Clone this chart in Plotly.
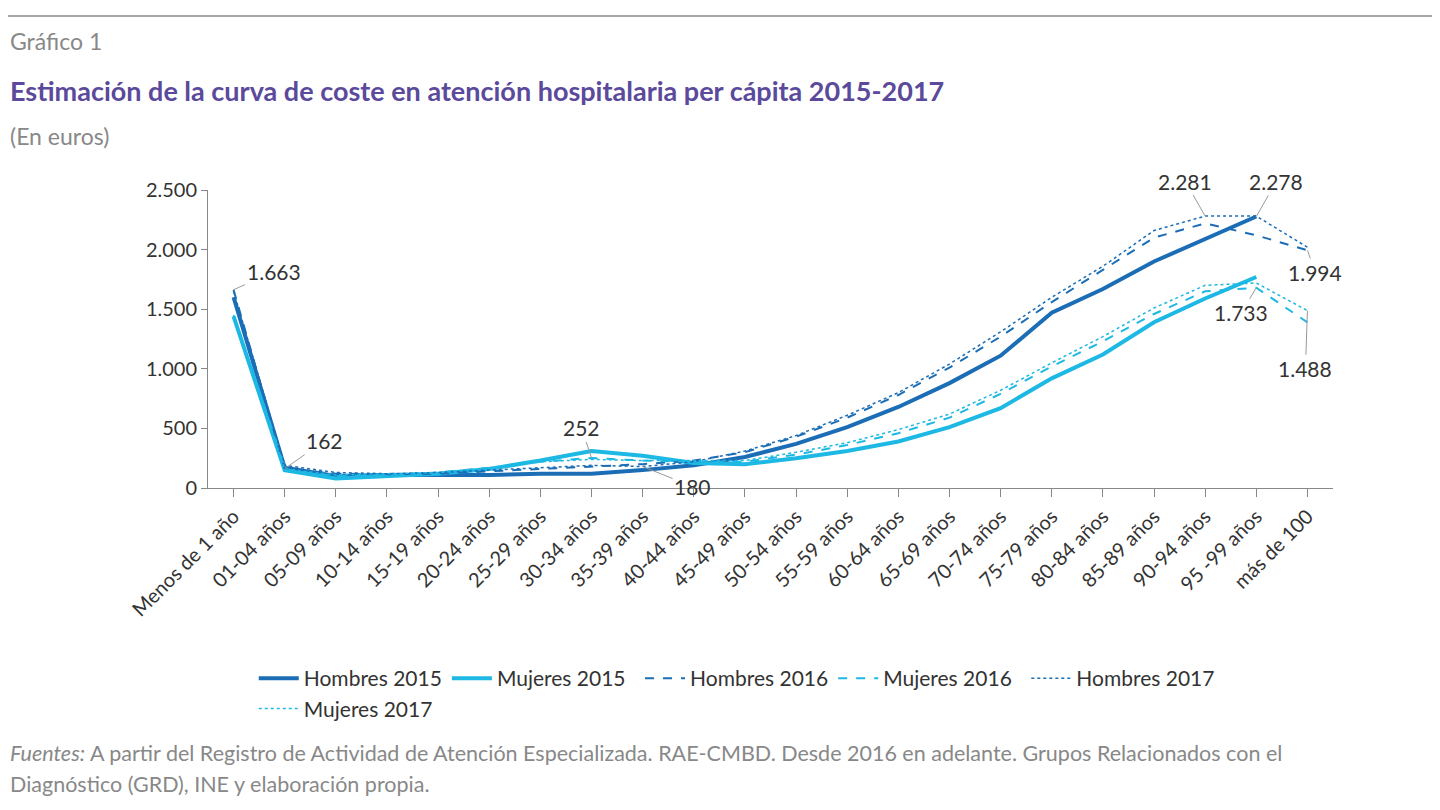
import plotly.graph_objects as go

categories = ["Menos de 1 año","01-04 años","05-09 años","10-14 años","15-19 años","20-24 años",
              "25-29 años","30-34 años","35-39 años","40-44 años","45-49 años","50-54 años",
              "55-59 años","60-64 años","65-69 años","70-74 años","75-79 años","80-84 años",
              "85-89 años","90-94 años","95 -99 años","más de 100"]
hombres_2015 = [1600,170,100,110,110,110,120,120,150,190,260,370,510,680,880,1110,1470,1670,1900,2090,2278,None]
mujeres_2015 = [1440,150,80,100,120,160,230,310,270,210,200,250,310,390,510,670,920,1120,1390,1590,1770,None]
hombres_2016 = [1663,162,120,115,120,140,160,180,200,230,300,430,590,780,1010,1270,1560,1830,2100,2220,2120,1994]
mujeres_2016 = [1450,150,100,110,130,170,220,252,230,220,220,280,360,460,590,790,1020,1230,1460,1650,1680,1390]
hombres_2017 = [1650,190,130,120,130,150,170,190,180,220,310,440,610,800,1040,1310,1600,1860,2160,2281,2281,2020]
mujeres_2017 = [1440,160,110,120,130,170,220,240,230,230,230,300,380,490,620,820,1050,1270,1510,1700,1720,1488]
yticks = [0,500,1000,1500,2000,2500]
ytick_text = ["0","500","1.000","1.500","2.000","2.500"]

DARK = "#1b6db5"
LIGHT = "#1db8e3"
series = [
    ("Hombres 2015", hombres_2015, DARK, "solid", 4),
    ("Mujeres 2015", mujeres_2015, LIGHT, "solid", 4),
    ("Hombres 2016", hombres_2016, DARK, "dash", 2),
    ("Mujeres 2016", mujeres_2016, LIGHT, "dash", 2),
    ("Hombres 2017", hombres_2017, DARK, "dot", 1.5),
    ("Mujeres 2017", mujeres_2017, LIGHT, "dot", 1.5),
]
fig = go.Figure()
for name, vals, c, d, w in series:
    fig.add_trace(go.Scatter(x=categories, y=vals, name=name, mode="lines",
                             line=dict(color=c, dash=d, width=w)))

font = "Lato, Open Sans, sans-serif"
def ann(xi, y, text, ax, ay):
    fig.add_annotation(x=categories[xi], y=y, text=text, showarrow=True, arrowhead=0,
                       arrowcolor="#999", arrowwidth=1, ax=ax, ay=ay,
                       font=dict(size=21, color="#333", family=font))
ann(0, hombres_2016[0], "1.663", 40, -18)
ann(1, hombres_2016[1], "162", 40, -28)
ann(7, mujeres_2016[7], "252", -10, -30)
ann(8, hombres_2017[8], "180", 50, 20)
ann(19, hombres_2017[19], "2.281", -20, -35)
ann(20, hombres_2015[20], "2.278", 20, -35)
ann(21, hombres_2016[21], "1.994", 8, 22)
ann(20, mujeres_2016[20], "1.733", -15, 25)
ann(21, mujeres_2017[21], "1.488", -2, 58)

T, B = 182, 330
H = 810 - T - B
fig.update_layout(
    width=1440, height=810, paper_bgcolor="white", plot_bgcolor="white",
    margin=dict(l=200, r=115, t=T, b=B),
    font=dict(family=font, color="#333"),
    showlegend=True,
    legend=dict(orientation="h", x=0.47, xanchor="center", y=1-(650-T)/H, yanchor="top",
                font=dict(size=21, color="#333"), itemwidth=40, tracegroupgap=0),
    xaxis=dict(showline=True, linecolor="#888", ticks="outside", tickcolor="#888",
               ticklen=8, tickangle=-45, tickfont=dict(size=20, color="#333"),
               showgrid=False, range=[-0.5, 21.5]),
    yaxis=dict(showline=True, linecolor="#888", ticks="outside", tickcolor="#888",
               ticklen=6, range=[0, 2500], tickvals=yticks, ticktext=ytick_text,
               tickfont=dict(size=20, color="#333"), showgrid=False, zeroline=False),
    shapes=[
        dict(type="line", xref="paper", yref="paper", x0=-200/1125, x1=1.11,
             y0=1+(T-8)/H, y1=1+(T-8)/H, line=dict(color="#888", width=1.5)),
        dict(type="line", xref="paper", yref="paper", x0=-200/1125, x1=1.11,
             y0=1-(803-T)/H, y1=1-(803-T)/H, line=dict(color="#888", width=1.5)),
    ],
)
paper = [
    (0, 33, "Gráfico 1", 23, "#888"),
    (0, 82, "<b>Estimación de la curva de coste en atención hospitalaria per cápita 2015-2017</b>", 27, "#5b4a9b"),
    (0, 128, "(En euros)", 23, "#888"),
    (0, 745, "<i>Fuentes:</i> A partir del Registro de Actividad de Atención Especializada. RAE-CMBD. Desde 2016 en adelante. Grupos Relacionados con el", 21.5, "#888"),
    (0, 776, "Diagnóstico (GRD), INE y elaboración propia.", 21.5, "#888"),
]
for px, py, t, s, c in paper:
    fig.add_annotation(xref="paper", yref="paper", x=(px-200)/1125, y=1-(py-T)/H,
                       xanchor="left", yanchor="middle", text=t, showarrow=False,
                       font=dict(size=s, color=c, family=font))
fig.write_html("out.html")
